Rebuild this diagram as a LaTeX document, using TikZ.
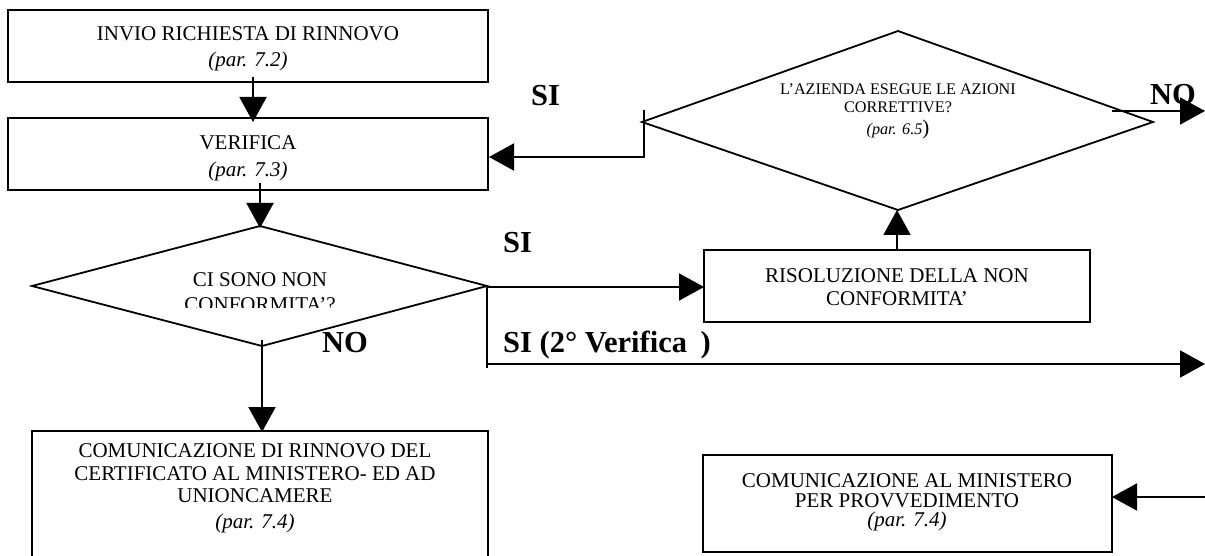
\documentclass[tikz,border=0pt]{standalone}
\usepackage{fontspec}
\setmainfont{Liberation Serif}
\usetikzlibrary{arrows.meta}
\begin{document}
\begin{tikzpicture}[x=1pt,y=-1pt,
  box/.style={draw, line width=2.5pt, inner sep=0pt},
  dline/.style={line width=1.8pt, line join=miter},
  conn/.style={line width=2pt},
  arr/.style={line width=2pt, -{Triangle[length=25pt,width=27pt]}},
  txt/.style={inner sep=0pt, anchor=base, font=\fontsize{21}{25}\selectfont},
  stxt/.style={inner sep=0pt, anchor=base, font=\fontsize{16.2}{19}\selectfont},
  lbl/.style={inner sep=0pt, anchor=base west, font=\fontsize{30.5}{34}\selectfont\bfseries}]
\clip (0,0) rectangle (1205,556);

% boxes
\node[box, minimum width=480pt, minimum height=72pt] (b1) at (248,46) {};
\node[box, minimum width=480pt, minimum height=72pt] (b2) at (248,154) {};
\node[box, minimum width=386pt, minimum height=72pt] (b4) at (897,286) {};
\node[box, minimum width=456pt, minimum height=150pt] (b3) at (260,506) {};
\node[box, minimum width=409pt, minimum height=97pt] (b6) at (907.5,503.5) {};

% box texts
\node[txt] (t11) at (248,41) {INVIO RICHIESTA DI RINNOVO};
\node[txt] (t12) at (248,67) {\itshape (par. 7.2)};
\node[txt] (t21) at (248,150) {VERIFICA};
\node[txt] (t22) at (248,177) {\itshape (par. 7.3)};
\node[txt] (t41) at (897,282) {RISOLUZIONE DELLA NON};
\node[txt] (t42) at (897,305) {CONFORMITA’};
\node[txt] (t31) at (255,457) {COMUNICAZIONE DI RINNOVO DEL};
\node[txt] (t32) at (255,480) {CERTIFICATO AL MINISTERO- ED AD};
\node[txt] (t33) at (255,502) {UNIONCAMERE};
\node[txt] (t34) at (255,528) {\itshape (par. 7.4)};
\node[txt] (t61) at (907,487) {COMUNICAZIONE AL MINISTERO};
\node[txt] (t62) at (907,507) {PER PROVVEDIMENTO};
\node[txt] (t63) at (907,526) {\itshape (par. 7.4)};

% diamond 1
\coordinate (d1t) at (260,226);
\coordinate (d1l) at (32,286);
\coordinate (d1r) at (487,286);
\coordinate (d1b) at (262,346);
\draw[dline] (d1t) -- (d1r) -- (d1b) -- (d1l) -- cycle;
\node[txt] (t51) at (260,287) {CI SONO NON};
\begin{scope}
\clip (0,0) rectangle (1205,307);
\node[txt] (t52) at (260,311) {CONFORMITA’?};
\end{scope}

% diamond 2
\coordinate (d2t) at (898,31);
\coordinate (d2l) at (642,122);
\coordinate (d2r) at (1153,122);
\coordinate (d2b) at (898,210);
\draw[dline] (d2t) -- (d2r) -- (d2b) -- (d2l) -- cycle;
\node[stxt] (t71) at (898,95) {L’AZIENDA ESEGUE LE AZIONI};
\node[stxt] (t72) at (898,113) {CORRETTIVE?};
\node[stxt] (t73) at (898,135) {\itshape (par. 6.5\upshape\fontsize{21}{25}\selectfont)};

% labels
\node[lbl] (l1) at (531,106) {SI};
\node[lbl] (l2) at (1150,105) {NO};
\node[lbl] (l3) at (503,252) {SI};
\node[lbl] (l4) at (322,352) {NO};
\node[lbl] (l5) at (503,352) {SI (2° Verifica\hspace{6pt} )};

% connector coordinates
\coordinate (a1s) at (253,77);
\coordinate (a1e) at (253,122);
\coordinate (a2s) at (260,183);
\coordinate (a2e) at (260,228);
\coordinate (a3s) at (262,340);
\coordinate (a3e) at (262,432);
\coordinate (a4e) at (704,287);
\coordinate (a5s) at (897,250);
\coordinate (a5e) at (897,210);
\coordinate (a6s) at (644,110);
\coordinate (a6m) at (644,157);
\coordinate (a6e) at (489,157);
\coordinate (a7s) at (1112,111);
\coordinate (a7e) at (1205,111);
\coordinate (a8b) at (487,368);
\coordinate (a8m) at (487,364);
\coordinate (a8e) at (1205,364);
\coordinate (a9s) at (1205,497);
\coordinate (a9e) at (1112,497);

% connectors
\draw[arr] (a1s) -- (a1e);
\draw[arr] (a2s) -- (a2e);
\draw[arr] (a3s) -- (a3e);
\draw[arr] (d1r |- a4e) -- (a4e);
\draw[conn] (d1r) -- (a8b);
\draw[arr] (a8m) -- (a8e);
\draw[arr] (a5s) -- (a5e);
\draw[arr] (a6s) -- (a6m) -- (a6e);
\draw[arr] (a7s) -- (a7e);
\draw[arr] (a9s) -- (a9e);
\end{tikzpicture}
\end{document}
